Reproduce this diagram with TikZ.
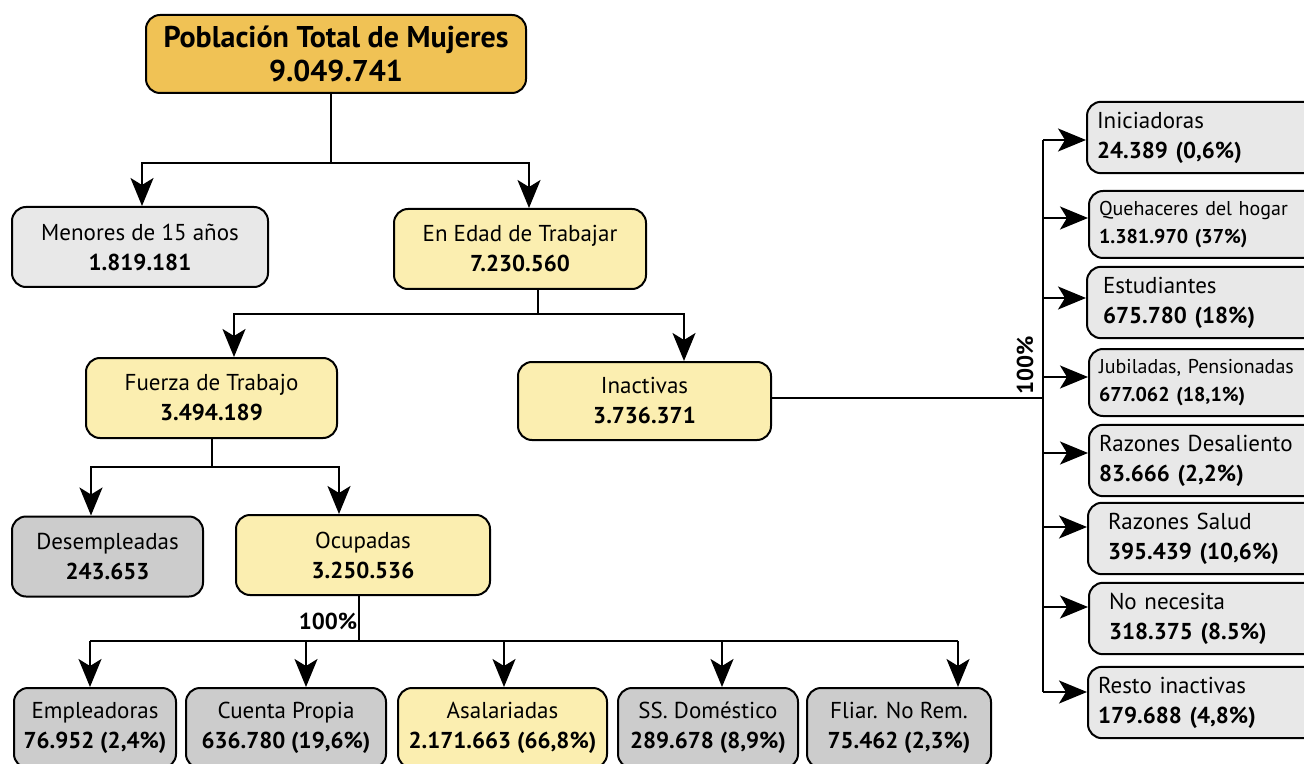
\documentclass[tikz,border=0pt]{standalone}
\usepackage{fontspec}
\setmainfont{PT Sans}
\usepackage{xcolor}
\definecolor{popgold}{RGB}{240,194,85}
\definecolor{popyellow}{RGB}{251,238,176}
\definecolor{poplight}{RGB}{232,232,232}
\definecolor{popgray}{RGB}{204,204,204}
\usepackage{tikz}
\usetikzlibrary{arrows.meta,positioning}

\begin{document}
\begin{tikzpicture}[x=0.5pt, y=-0.5pt, line width=1pt,
    every node/.style={font=\fontsize{11.5}{15}\selectfont},
    box/.style={draw, rounded corners=7pt, line width=1pt, align=center, inner sep=2pt, minimum height=40pt},
    sidebox/.style={box, anchor=west, minimum width=115pt, minimum height=33.5pt, text width=105pt, align=left, inner sep=5pt, fill=poplight},
    arr/.style={-{Stealth[length=14pt, width=11.5pt, inset=3.5pt]}}]
  \useasboundingbox (0,0) rectangle (1304,764);

  % top of the tree
  \node[box, fill=popgold, minimum width=190pt, minimum height=39pt, font=\fontsize{15}{17}\selectfont\bfseries] (pob) at (336,54) {Población Total de Mujeres\\9.049.741};
  \node[box, fill=poplight, minimum width=128pt] (men) at (140,247) {Menores de 15 años\\\textbf{1.819.181}};
  \node[box, fill=popyellow, minimum width=126pt] (edad) at (520,249) {En Edad de Trabajar\\\textbf{7.230.560}};
  \node[box, fill=popyellow, minimum width=125.5pt] (fza) at (211.5,398) {Fuerza de Trabajo\\\textbf{3.494.189}};
  \node[box, fill=popyellow, minimum width=126.5pt, minimum height=39pt] (inac) at (644.5,401) {Inactivas\\\textbf{3.736.371}};
  \node[box, fill=popgray, minimum width=95.5pt] (des) at (107.5,556.5) {Desempleadas\\\textbf{243.653}};
  \node[box, fill=popyellow, minimum width=127pt] (ocu) at (363,555) {Ocupadas\\\textbf{3.250.536}};

  % ocupadas
  \node[box, fill=popgray, minimum width=81pt] (emp) at (95,728) {Empleadoras\\\textbf{76.952 (2,4\%)}};
  \node[box, fill=popgray, minimum width=100pt] (cta) at (286,728) {Cuenta Propia\\\textbf{636.780 (19,6\%)}};
  \node[box, fill=popyellow, minimum width=104.5pt] (asa) at (502.5,728) {Asalariadas\\\textbf{2.171.663 (66,8\%)}};
  \node[box, fill=popgray, minimum width=90pt] (ss) at (708,728) {SS. Doméstico\\\textbf{289.678 (8,9\%)}};
  \node[box, fill=popgray, minimum width=92pt] (fli) at (899,728) {Fliar. No Rem.\\\textbf{75.462 (2,3\%)}};

  % inactivas
  \node[sidebox] (ini) at (1086,137.5) {Iniciadoras\\\textbf{24.389 (0,6\%)}};
  \node[sidebox, font=\fontsize{10}{14}\selectfont] (que) at (1088,224.5) {Quehaceres del hogar\\\textbf{1.381.970 (37\%)}};
  \node[sidebox] (est) at (1086,302.5) {\hspace{3pt}Estudiantes\\\hspace{3pt}\textbf{675.780 (18\%)}};
  \node[sidebox, font=\fontsize{10}{14}\selectfont] (jub) at (1088,382.5) {Jubiladas, Pensionadas\\\textbf{677.062 (18,1\%)}};
  \node[sidebox] (dsl) at (1088,460.5) {Razones Desaliento\\\textbf{83.666 (2,2\%)}};
  \node[sidebox] (sal) at (1087,538.5) {\hspace{5pt}Razones Salud\\\hspace{5pt}\textbf{395.439 (10,6\%)}};
  \node[sidebox] (nne) at (1088,618.5) {\hspace{5pt}No necesita\\\hspace{5pt}\textbf{318.375 (8.5\%)}};
  \node[sidebox] (res) at (1087,702.5) {Resto inactivas\\\textbf{179.688 (4,8\%)}};

  % junctions
  \coordinate (j1) at (331,163);
  \coordinate (j2) at (538,314);
  \coordinate (j3) at (212,467);
  \coordinate (j4) at (359,641);
  \coordinate (rbus) at (1043,398);

  \draw (j1 |- pob.south) -- (j1);
  \draw[arr] (j1) -| (men.north -| 142,0);
  \draw[arr] (j1) -| (edad.north -| 529,0);

  \draw (j2 |- edad.south) -- (j2);
  \draw[arr] (j2) -| (fza.north -| 234,0);
  \draw[arr] (j2) -| (inac.north -| 684,0);

  \draw (j3 |- fza.south) -- (j3);
  \draw[arr] (j3) -| (des.north -| 91,0);
  \draw[arr] (j3) -| (ocu.north -| 339,0);

  \draw (j4 |- ocu.south) -- (j4);
  \draw (j4) -- (j4 -| 90,0) (j4) -- (j4 -| 958,0);
  \foreach \n/\x in {emp/90, cta/306, asa/504, ss/722, fli/958}
    \draw[arr] (j4 -| \x,0) -- (\n.north -| \x,0);
  \node[font=\fontsize{11.5}{15}\selectfont\bfseries] (pocu) at (328,621) {100\%};

  \draw (inac.east |- rbus) -- (rbus);
  \draw (1043,140) -- (1043,692);
  \foreach \n/\y in {ini/140, que/218, est/298, jub/377, dsl/453, sal/527, nne/607, res/692}
    \draw[arr] (1043,\y) -- (\n.west |- 0,\y);
  \node[rotate=90, font=\fontsize{11.5}{15}\selectfont\bfseries] (pinac) at (1025,365) {100\%};
\end{tikzpicture}
\end{document}
